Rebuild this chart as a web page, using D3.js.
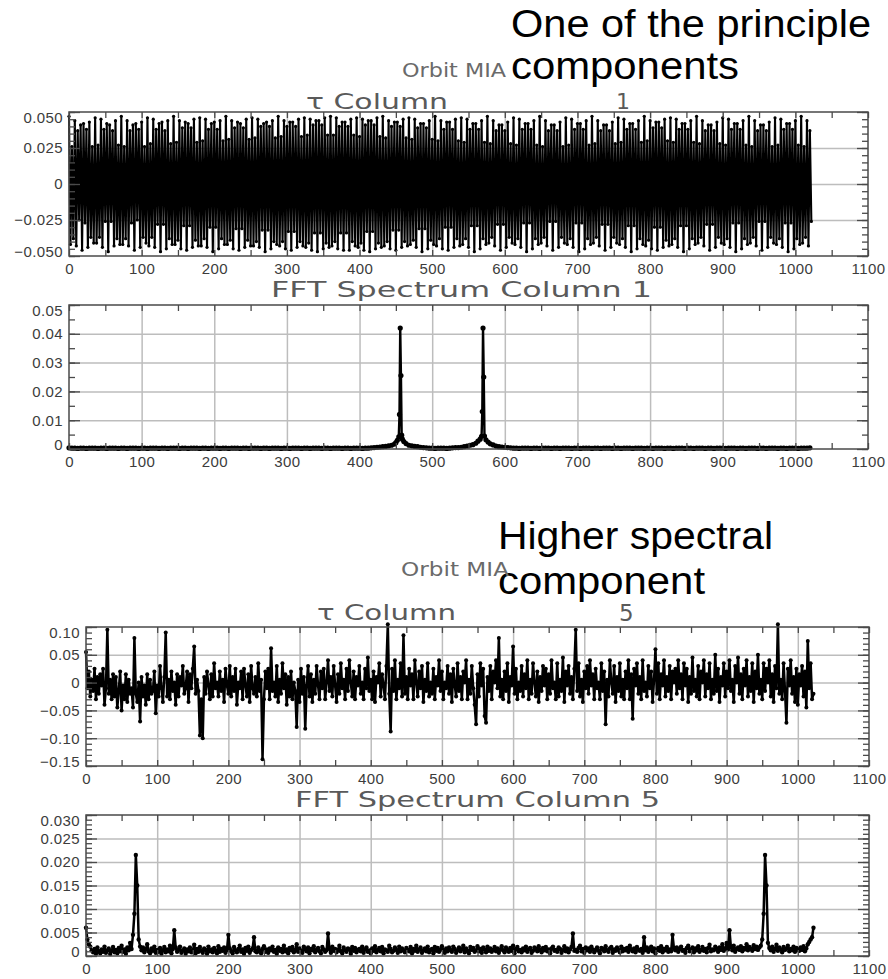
<!DOCTYPE html>
<html>
<head>
<meta charset="utf-8">
<title>Orbit MIA</title>
<script src="https://cdn.jsdelivr.net/npm/d3@7"></script>
<style>
  body { margin: 0; background: #fff; }
  .tick text { font-family: "Liberation Sans", Arial, sans-serif; font-size: 15px; fill: #3c3c3c; letter-spacing: 0.4px; }
  .domain { display: none; }
</style>
</head>
<body>
<svg id="chart"></svg>
<script>
// ---- tick values / labels ----
const xTickVals = [0, 100, 200, 300, 400, 500, 600, 700, 800, 900, 1000, 1100];
const xTickLabels = ['0', '100', '200', '300', '400', '500', '600', '700', '800', '900', '1000', '1100'];
const xMinorVals = [50, 150, 250, 350, 450, 550, 650, 750, 850, 950, 1050];

const p1YTicks = [-0.05, -0.025, 0, 0.025, 0.05];
const p1YLabels = ['\u22120.050', '\u22120.025', '0', '0.025', '0.050'];
const p2YTicks = [0, 0.01, 0.02, 0.03, 0.04, 0.05];
const p2YLabels = ['0', '0.01', '0.02', '0.03', '0.04', '0.05'];
const p3YTicks = [-0.15, -0.10, -0.05, 0, 0.05, 0.10];
const p3YLabels = ['\u22120.15', '\u22120.10', '\u22120.05', '0', '0.05', '0.10'];
const p4YTicks = [0, 0.005, 0.010, 0.015, 0.020, 0.025, 0.030];
const p4YLabels = ['0', '0.005', '0.010', '0.015', '0.020', '0.025', '0.030'];

// ---- series ----
// tau column 1, every 2nd sample, units of 1e-3
const tau1 = [
47,-42,26,-38,44,-43,37,-25,41,-46,42,-27,38,-44,43,-37,26,-41,
46,-41,27,-37,45,-44,38,-26,42,-47,41,-26,37,-43,44,-38,27,-42,
47,-42,26,-38,44,-43,37,-27,41,-46,42,-25,38,-44,43,-37,26,-41,
46,-43,28,-37,45,-44,38,-28,42,-47,43,-28,37,-45,44,-38,28,-42,
47,-42,29,-39,44,-45,39,-29,43,-46,42,-29,39,-44,45,-39,29,-43,
46,-43,30,-38,45,-44,38,-30,42,-47,43,-30,38,-45,44,-38,30,-42,
47,-42,31,-39,44,-45,39,-31,43,-46,42,-31,39,-44,45,-39,31,-43,
46,-43,32,-40,45,-44,40,-32,42,-47,43,-32,40,-45,44,-40,32,-42,
47,-43,33,-40,44,-45,40,-33,43,-46,43,-33,40,-44,45,-40,33,-43,
46,-44,34,-41,45,-46,41,-34,44,-47,44,-34,41,-45,46,-41,34,-44,
47,-43,34,-40,46,-45,40,-34,43,-46,43,-34,40,-46,45,-40,34,-43,
46,-44,33,-41,45,-46,41,-33,44,-47,44,-33,41,-45,46,-41,33,-44,
47,-43,32,-40,44,-45,40,-32,43,-46,43,-32,40,-44,45,-40,32,-43,
46,-42,31,-39,45,-44,39,-31,42,-47,42,-31,39,-45,44,-39,31,-42,
47,-43,30,-38,44,-45,38,-30,43,-46,43,-30,38,-44,45,-38,30,-43,
46,-42,29,-38,45,-44,38,-29,42,-47,42,-29,38,-45,44,-38,29,-42,
47,-41,28,-37,44,-43,37,-28,41,-46,41,-28,37,-44,43,-37,28,-41,
46,-42,27,-38,45,-44,38,-27,42,-47,42,-27,38,-45,44,-38,27,-42,
47,-41,26,-37,44,-43,37,-26,41,-46,41,-26,37,-44,43,-37,26,-41,
46,-42,27,-38,45,-44,38,-27,42,-47,42,-27,38,-45,44,-38,27,-42,
47,-41,28,-37,44,-43,37,-28,41,-46,41,-28,37,-44,43,-37,28,-41,
46,-42,29,-38,45,-44,38,-29,42,-47,42,-29,38,-45,44,-38,29,-42,
47,-43,30,-39,44,-45,39,-30,43,-46,43,-30,39,-44,45,-39,30,-43,
46,-42,29,-38,45,-44,38,-29,42,-47,42,-29,38,-45,44,-38,29,-42,
47,-41,28,-37,44,-43,37,-28,41,-46,41,-28,37,-44,43,-37,28,-41,
46,-42,27,-38,45,-44,38,-27,42,-47,42,-27,38,-45,44,-38,27,-42,
47,-41,26,-37,44,-43,37,-26,41,-46,41,-26,37,-44,43,-37,26,-41,
46,-42,27,-38,45,-44,38,-27,42,-47,42,-27,38,-45,44,-38,27,-42,
47,-41,26,-37,44,-43,37,-26
];

// FFT spectrum column 1: floor every 4th bin, units of 1e-4
const spec1Floor = [
4,3,3,2,3,3,2,3,3,3,2,3,3,2,3,3,3,2,3,3,2,3,3,3,2,3,3,2,3,3,3,2,
3,3,2,3,3,3,2,3,3,2,3,3,3,2,3,3,2,3,3,3,2,3,3,2,3,3,3,2,3,3,2,3,
3,3,2,3,3,2,3,3,3,2,3,3,2,3,3,3,2,3,3,2,3,3,3,2,3,3,2,3,3,3,2,3,
3,2,3,3,3,2,3,3,4,5,6,7,8,9,11,12,14,16,20,16,14,12,11,9,8,6,5,4,3,3,2,3,
3,3,2,3,4,5,5,6,8,10,13,16,20,30,40,40,24,16,14,10,8,7,6,5,4,3,3,2,3,3,3,2,
3,3,2,3,3,3,2,3,3,2,3,3,3,2,3,3,2,3,3,3,2,3,3,2,3,3,3,2,3,3,2,3,
3,3,2,3,3,3,2,3,3,2,3,3,3,2,3,3,2,3,3,3,2,3,3,2,3,3,3,2,3,3,2,3,
3,3,2,3,3,3,2,3,3,2,3,3,3,2,3,3,2,3,3,3,2,3,3,2,3,3,3,2,3,3,3,4
];
// bins around the two lines: [bin, value 1e-4]
const spec1PeakA = [[444,13],[448,17],[450,22],[452,30],[454,42],[455,120],[456,420],[457,255],[458,48],[459,34],[461,26],[464,19],[468,13]];
const spec1PeakB = [[556,15],[560,20],[563,27],[566,34],[568,44],[569,130],[570,420],[571,250],[572,45],[574,32],[577,24],[580,18],[584,14]];

// tau column 5, every 2nd sample, units of 1e-3
const tau5 = [
55,-10,20,-25,5,-15,25,-30,10,-20,15,-5,25,-40,-10,95,-20,5,-30,15,-25,10,-45,-15,20,-50,-5,-30,15,-35,5,-20,
-10,-45,80,-20,-35,0,-70,10,-25,-5,-40,15,-30,5,-20,-15,20,-55,-5,-25,30,-10,-35,10,90,-25,5,-30,20,-15,0,-40,
15,-25,10,-5,30,-20,-10,20,-35,15,-10,25,65,-20,5,-15,-95,-30,-100,10,-20,20,-5,-30,15,-25,35,-10,0,-25,20,-15,
5,-35,25,-5,-20,30,-25,10,-15,25,-40,0,-10,20,-30,25,-5,-25,15,-35,30,-10,-20,10,-25,35,-15,5,-138,-30,20,-10,
25,-30,62,-15,0,-25,30,-35,5,-20,35,-10,15,-40,10,-25,20,-30,0,-15,-80,5,-35,25,-20,10,-83,-5,30,-25,15,-35,
5,-20,30,-5,-30,20,-10,25,-30,0,40,-15,10,-25,30,-5,-35,15,-20,35,-10,5,-30,25,-15,40,0,-25,20,-30,10,-5,
30,-20,0,-30,25,-10,45,-15,5,-30,20,-35,10,0,35,-25,15,-5,-30,30,105,-20,-88,25,-15,40,-30,5,-10,35,-25,85,
-20,10,-30,25,-5,15,-30,40,0,-25,20,-10,30,-35,5,-15,35,-25,0,-20,25,-30,10,-5,40,-15,20,-30,0,-10,30,-20,
15,-35,25,-5,-25,35,-15,10,-30,20,0,40,-30,5,-20,30,-10,-40,-75,15,-25,35,-5,25,-60,-72,10,-15,30,-30,20,0,
40,-10,80,-25,5,-30,20,-15,35,-35,10,-5,65,-20,25,-30,0,-15,30,-25,15,-10,40,-30,5,-20,35,0,-25,20,-35,10,
-15,30,-5,25,-30,15,-20,40,-10,0,-30,35,-25,5,-15,45,-35,20,-5,30,-20,10,-30,25,95,-15,35,-25,5,-35,20,-10,
30,-20,40,-5,15,-30,25,-10,0,-30,35,-15,20,-75,5,-25,40,0,-20,30,-35,10,-15,35,-25,5,-30,20,-10,40,-30,15,
-65,25,-5,35,-20,10,-30,40,-15,0,-25,30,-10,20,-35,5,60,-20,35,-30,15,-5,40,-25,10,-15,30,-30,20,0,25,-20,
40,-10,15,-30,35,-5,25,-35,10,-20,45,-15,5,-25,30,-30,20,0,40,-25,15,-10,35,-30,5,-20,50,-15,25,-35,10,-5,
35,-25,20,-10,40,-15,5,-35,30,0,45,-20,15,-30,25,-5,40,-25,10,-15,35,-35,20,-10,50,-20,5,-30,35,-15,25,0,
40,-25,15,-35,30,-10,105,-20,5,-30,35,-15,-72,25,-5,40,-20,10,-35,25,-40,15,-5,30,-25,20,-45,75,-10,35,-30,-20
];

// FFT spectrum column 5, every 2nd bin, units of 1e-4
const spec5 = [
60,35,25,20,12,8,15,5,18,10,6,14,9,20,7,12,16,4,11,19,8,13,6,17,10,22,9,14,5,18,12,28,
15,45,90,215,150,35,20,12,18,8,14,25,10,6,16,11,20,7,13,9,17,5,12,19,8,14,10,22,6,15,55,18,
9,13,20,7,11,16,5,14,10,18,8,12,24,6,15,9,19,11,7,16,13,5,20,10,14,8,17,12,6,21,9,15,
11,18,7,13,45,16,10,6,19,12,8,15,22,9,14,5,17,11,20,7,13,16,40,10,8,18,12,6,15,21,9,14,
7,16,12,20,9,13,5,18,11,15,8,22,10,14,6,17,12,19,8,13,25,9,16,11,7,20,14,10,18,6,15,12,
21,8,13,17,10,6,19,14,9,12,48,16,7,20,11,15,8,13,22,10,6,18,12,9,16,14,5,19,11,17,8,13,
15,10,20,7,14,18,9,12,6,16,11,21,8,13,17,10,19,6,14,12,9,22,15,8,11,18,13,7,20,10,16,12,
8,17,13,10,19,6,15,11,22,9,14,18,7,12,16,10,20,8,13,15,6,19,11,17,9,14,21,12,7,16,10,18,
13,9,20,15,7,12,18,10,14,22,8,16,11,6,19,13,17,9,12,21,10,15,7,18,14,8,20,11,16,9,13,19,
10,16,7,14,21,12,8,18,13,9,17,11,22,6,15,19,10,13,8,16,12,20,9,14,17,7,11,18,15,10,21,13,
8,17,12,19,10,14,6,16,20,11,13,9,18,15,7,12,21,10,16,8,14,19,48,11,13,9,17,22,10,15,7,18,
12,16,9,20,14,8,13,18,11,6,17,15,10,21,12,9,16,19,7,14,11,18,13,8,20,10,15,12,17,9,22,14,
10,16,8,19,13,11,15,7,40,12,18,9,14,20,10,16,6,13,17,11,21,8,15,12,19,9,14,10,45,16,12,18,
9,15,20,11,13,7,17,22,10,14,18,8,16,12,21,9,13,19,11,15,8,17,24,10,14,12,20,16,9,18,13,25,
11,16,28,14,55,19,12,22,9,15,18,13,21,10,17,14,25,12,19,16,11,23,15,20,13,18,22,35,90,215,150,28,
17,12,20,9,15,24,11,18,14,8,19,13,16,22,10,15,12,20,9,17,14,11,18,13,21,10,16,25,30,35,40,60
];

// ---- build point lists ----
const tau1Pts = tau1.map((v, i) => [i * 2, v / 1000]);
const spec1Pts = spec1Floor.map((v, i) => [i * 4, v])
  .filter(d => !(d[0] >= 444 && d[0] <= 468) && !(d[0] >= 556 && d[0] <= 584))
  .concat(spec1PeakA, spec1PeakB)
  .sort((a, b) => a[0] - b[0])
  .map(d => [d[0], d[1] / 10000]);
const tau5Pts = tau5.map((v, i) => [i * 2, v / 1000]);
const spec5Pts = spec5.map((v, i) => [i * 2, v / 10000]);

const svg = d3.select('#chart').attr('width', 888).attr('height', 979);

function panel(p) {
  const x = d3.scaleLinear().domain([0, 1100]).range([p.left, p.right]);
  const y = d3.scaleLinear().domain(p.yDomain).range([p.bottom, p.top]);
  const w = p.right - p.left, h = p.bottom - p.top;
  const g = svg.append('g');

  // grid
  g.append('g').attr('transform', `translate(0,${p.bottom})`)
    .call(d3.axisBottom(x).tickValues(xTickVals.slice(1, -1)).tickSize(-h).tickFormat(''))
    .selectAll('line').attr('stroke', '#bdbdbd').attr('stroke-width', 1.5);
  g.append('g').attr('transform', `translate(${p.left},0)`)
    .call(d3.axisLeft(y).tickValues(p.yTicks.filter(v => v !== p.yDomain[0] && v !== p.yDomain[1])).tickSize(-w).tickFormat(''))
    .selectAll('line').attr('stroke', '#bdbdbd').attr('stroke-width', 1.5);

  // data
  const line = d3.line().x(d => x(d[0])).y(d => y(d[1]));
  g.append('path').datum(p.data).attr('d', line)
    .attr('fill', 'none').attr('stroke', '#000').attr('stroke-width', p.lw || 1)
    .attr('stroke-linejoin', 'round');
  g.append('g').selectAll('circle').data(p.data).join('circle')
    .attr('cx', d => x(d[0])).attr('cy', d => y(d[1])).attr('r', p.r || 1.4).attr('fill', '#000');

  // frame
  g.append('rect').attr('x', p.left).attr('y', p.top).attr('width', w).attr('height', h)
    .attr('fill', 'none').attr('stroke', '#4a4a4a').attr('stroke-width', 1.5);

  const tickStyle = s => s.selectAll('line').attr('stroke', '#4a4a4a').attr('stroke-width', 1.3);

  // x ticks top and bottom
  const xAll = xTickVals.concat(xMinorVals);
  g.append('g').attr('transform', `translate(0,${p.top})`)
    .call(d3.axisTop(x).tickValues(xAll).tickSize(-6).tickFormat('')).call(tickStyle);
  g.append('g').attr('transform', `translate(0,${p.bottom})`)
    .call(d3.axisBottom(x).tickValues(xAll).tickSize(-6).tickFormat('')).call(tickStyle);
  g.append('g').attr('transform', `translate(0,${p.bottom})`)
    .call(d3.axisBottom(x).tickValues(xTickVals).tickSize(0).tickPadding(7).tickFormat((d, i) => xTickLabels[i]));

  // y ticks left and right
  const minor = d3.range(p.yDomain[0], p.yDomain[1] + p.minor / 2, p.minor);
  [['axisLeft', p.left], ['axisRight', p.right]].forEach(([fn, xp]) => {
    g.append('g').attr('transform', `translate(${xp},0)`)
      .call(d3[fn](y).tickValues(minor).tickSize(-6).tickFormat('')).call(tickStyle);
    g.append('g').attr('transform', `translate(${xp},0)`)
      .call(d3[fn](y).tickValues(p.yTicks).tickSize(-11).tickFormat('')).call(tickStyle);
  });
  g.append('g').attr('transform', `translate(${p.left},0)`)
    .call(d3.axisLeft(y).tickValues(p.yTicks).tickSize(0).tickPadding(6).tickFormat((d, i) => p.yLabels[i]))
    .selectAll('text')
    .attr('y', d => {
      const fromTop = y(d) - p.top, fromBottom = p.bottom - y(d);
      if (fromTop < 6) return 6 - fromTop;
      if (fromBottom < 4) return -(4 - fromBottom);
      return 0;
    });
}

panel({ left: 69, right: 868, top: 112, bottom: 256, yDomain: [-0.05, 0.05], yTicks: p1YTicks, yLabels: p1YLabels, minor: 0.005, data: tau1Pts, lw: 2.1, r: 1.6 });
panel({ left: 69, right: 868, top: 305, bottom: 449, yDomain: [0, 0.05], yTicks: p2YTicks, yLabels: p2YLabels, minor: 0.005, data: spec1Pts, lw: 2.4, r: 2.6 });
panel({ left: 86, right: 869, top: 627, bottom: 766, yDomain: [-0.15, 0.10], yTicks: p3YTicks, yLabels: p3YLabels, minor: 0.01, data: tau5Pts, lw: 2.5, r: 2.0 });
panel({ left: 86, right: 869, top: 815, bottom: 956, yDomain: [0, 0.03], yTicks: p4YTicks, yLabels: p4YLabels, minor: 0.001, data: spec5Pts, lw: 2.5, r: 2.2 });

// ---- titles and notes ----
function label(t, xp, yp, size, fill, len, family) {
  const el = svg.append('text').attr('x', xp).attr('y', yp).text(t)
    .attr('font-family', family || '"Liberation Sans", Arial, sans-serif')
    .attr('font-size', size).attr('fill', fill);
  if (len) el.attr('textLength', len).attr('lengthAdjust', 'spacingAndGlyphs');
}
const hershey = '"DejaVu Sans", Verdana, sans-serif';
label('One of the principle', 511, 37, 38, '#000', 360);
label('components', 511, 79, 38, '#000', 228);
label('Orbit MIA', 402, 77, 19, '#6a6a6a', 104, hershey);
label('\u03c4 Column', 306, 109, 22, '#5a5a5a', 142, hershey);
label('1', 616, 109, 22, '#5a5a5a', null, hershey);
label('FFT Spectrum Column  1', 271, 297, 22, '#5a5a5a', 381, hershey);

label('Higher spectral', 498, 549, 38, '#000', 275);
label('component', 498, 594, 38, '#000', 207);
label('Orbit MIA', 401, 576, 19, '#6a6a6a', 108, hershey);
label('\u03c4 Column', 317, 620, 22, '#5a5a5a', 139, hershey);
label('5', 619, 621, 23, '#5a5a5a', null, hershey);
label('FFT Spectrum Column  5', 295, 807, 22, '#5a5a5a', 365, hershey);
</script>
</body>
</html>
